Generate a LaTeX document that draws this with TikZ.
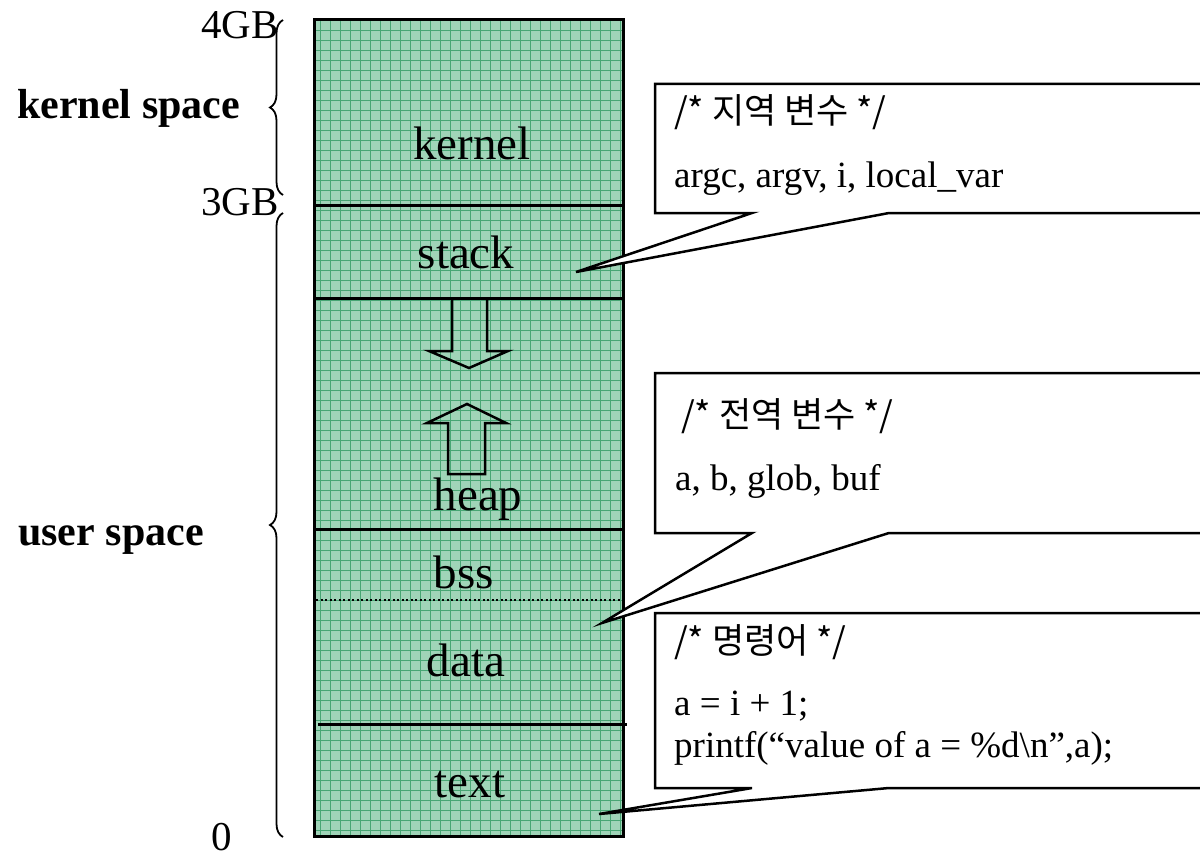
\documentclass[tikz,border=0pt]{standalone}
\usepackage{fontspec}
\setmainfont{Liberation Serif}
\newfontfamily\kor{Noto Sans CJK KR}
\usetikzlibrary{decorations.pathreplacing}
\definecolor{memfill}{RGB}{160,212,184}
\definecolor{memgrid}{RGB}{72,166,116}
% speech bubble: top, bottom, tip
\newcommand{\bubble}[3]{%
  \draw[callout] (655,#1) -- (1215,#1) -- (1215,#2) -- (889,#2) -- (#3)
    -- (752,#2) -- (655,#2) -- cycle;
}

\begin{document}
\begin{tikzpicture}[x=1pt,y=-1pt,
    seg/.style={anchor=base,inner sep=0pt,font=\fontsize{47}{50}\selectfont},
    side/.style={anchor=base west,inner sep=0pt,font=\fontsize{42}{45}\selectfont\bfseries},
    addr/.style={anchor=base east,inner sep=0pt,font=\fontsize{41}{44}\selectfont},
    note/.style={anchor=base west,inner sep=0pt,font=\fontsize{37}{40}\selectfont},
    knote/.style={note,font=\fontsize{35}{40}\selectfont\kor},
    bar/.style={line width=3pt},
    callout/.style={draw,fill=white,line width=2.5pt,line join=miter},
    span/.style={decorate,decoration={brace,amplitude=13pt},line width=1.8pt},
    hollow/.style={line width=2.5pt,line join=miter}
  ]
  \useasboundingbox (0,0) rectangle (1200,859);
  \fill[white] (0,0) rectangle (1200,859);

  % address space column
  \fill[memfill] (314,20) rectangle (623,836);
  \draw[memgrid,line width=0.55pt,step=10pt] (314,20) grid (623,836);
  \draw[bar] (314,20) rectangle (623,836);
  \draw[bar] (314,205) -- (623,205);
  \draw[bar] (314,298) -- (623,298);
  \draw[bar] (314,529) -- (623,529);
  \draw[line width=2pt,dash pattern=on 2pt off 2.5pt] (316,600) -- (623,600);
  \draw[bar] (318,724) -- (627,724);

  \node[seg] (kernel) at (472,159) {kernel};
  \node[seg] (stack) at (466,268) {stack};
  \node[seg] (heap) at (478,510) {heap};
  \node[seg] (bss) at (464,588) {bss};
  \node[seg] (data) at (466,676) {data};
  \node[seg] (text) at (470,797) {text};

  % stack grows down, heap grows up
  \draw[hollow] (452,298) -- (452,351) -- (429,351) -- (469,368)
    -- (508,351) -- (487,351) -- (487,298);
  \draw[hollow] (448,474) -- (448,423) -- (427,423) -- (467,404)
    -- (506,423) -- (485,423) -- (485,474) -- cycle;

  % address marks and spaces
  \node[addr] (top) at (279,39) {4GB};
  \node[addr] (split) at (279,215) {3GB};
  \node[anchor=base,inner sep=0pt,font=\fontsize{41}{44}\selectfont] (zero) at (222,850) {0};
  \draw[span] (283,195) -- (283,20);
  \draw[span] (283,837) -- (283,213);
  \node[side] (kspace) at (17,118) {kernel space};
  \node[side] (uspace) at (18,545) {user space};

  \coordinate (stacktip) at (576,272);
  \coordinate (datatip) at (602,623);
  \coordinate (texttip) at (599,814);
  \bubble{84}{213}{stacktip}
  \bubble{373}{533}{datatip}
  \bubble{613}{788}{texttip}

  \node[knote] (localhd) at (674,123) {/* 지역 변수 */};
  \node[note] (locals) at (674,187) {argc, argv, i, local\_var};
  \node[knote] (globhd) at (681,427) {/* 전역 변수 */};
  \node[note] (globals) at (675,490) {a, b, glob, buf};
  \node[knote] (codehd) at (674,653) {/* 명령어 */};
  \node[note] (code1) at (674,715) {a = i + 1;};
  \node[note] (code2) at (674,757) {printf(``value of a = \%d\textbackslash n'',a);};
\end{tikzpicture}
\end{document}
